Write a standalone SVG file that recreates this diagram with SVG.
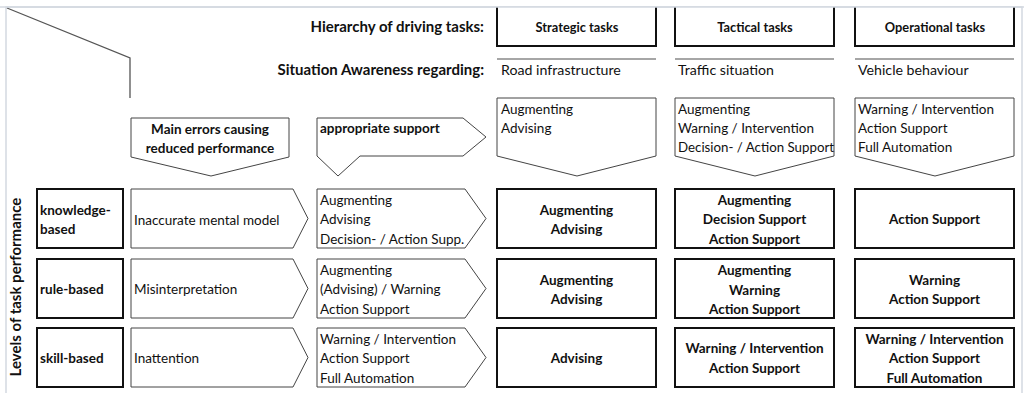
<svg xmlns="http://www.w3.org/2000/svg" width="1024" height="393" viewBox="0 0 1024 393">
<style>
text{font-family:"Lato","Open Sans","Liberation Sans",sans-serif;font-size:13.5px;fill:#111}
.b{font-weight:bold}
.m{text-anchor:middle}
.e{text-anchor:end}
.big{font-size:15px}
.head{font-size:12.8px}
.sa{font-size:14.2px}
.thick{fill:#fff;stroke:#111;stroke-width:2}
.thin{fill:#fff;stroke:#444;stroke-width:1}
.rule{stroke:#888;stroke-width:1.5;fill:none}
.frame{stroke:#d3d9e1;stroke-width:1.5;fill:none}
</style>
<rect width="1024" height="393" fill="#fff"/>
<g id="frame">
<path class="frame" d="M6,393 V7 H1022 V393"/>
<path d="M7,8 L130,58 V98" fill="none" stroke="#555" stroke-width="1.3"/>
</g>
<g id="headers">
<text class="b e big" x="484" y="32">Hierarchy of driving tasks:</text>
<text class="b e big" x="484" y="75">Situation Awareness regarding:</text>
</g>
<g id="strategic-head">
<path class="thick" d="M497,7 V46 H656 V7"/>
<text class="b m head" x="577" y="32">Strategic tasks</text>
<line class="rule" x1="497" y1="59" x2="656" y2="59"/>
<text class="sa" x="501" y="75">Road infrastructure</text>
</g>
<g id="tactical-head">
<path class="thick" d="M675,7 V46 H834 V7"/>
<text class="b m head" x="755" y="32">Tactical tasks</text>
<line class="rule" x1="675" y1="59" x2="834" y2="59"/>
<text class="sa" x="678" y="75">Traffic situation</text>
</g>
<g id="operational-head">
<path class="thick" d="M855,7 V46 H1014 V7"/>
<text class="b m head" x="935" y="32">Operational tasks</text>
<line class="rule" x1="855" y1="59" x2="1014" y2="59"/>
<text class="sa" x="858" y="75">Vehicle behaviour</text>
</g>
<g id="frame-top"><line class="frame" x1="0" y1="7" x2="1024" y2="7"/></g>
<g id="sa-strategic">
<path class="thin" d="M497,98 H656 V156 L577,176 L497,156 Z"/>
<text x="501" y="114">Augmenting</text>
<text x="501" y="133">Advising</text>
</g>
<g id="sa-tactical">
<path class="thin" d="M675,98 H834 V156 L755,176 L675,156 Z"/>
<text x="678" y="114">Augmenting</text>
<text x="678" y="133">Warning / Intervention</text>
<text x="678" y="152" style="font-size:13.3px">Decision- / Action Support</text>
</g>
<g id="sa-operational">
<path class="thin" d="M855,98 H1014 V156 L935,176 L855,156 Z"/>
<text x="858" y="114">Warning / Intervention</text>
<text x="858" y="133">Action Support</text>
<text x="858" y="152">Full Automation</text>
</g>
<g id="main-errors">
<path class="thin" d="M131,118 H289 V157 L211,176 L131,157 Z"/>
<text class="b m" x="210" y="134">Main errors causing</text>
<text class="b m" x="210" y="153">reduced performance</text>
</g>
<g id="appropriate-support">
<path class="thin" d="M317,118 H463 L486,137 L463,156 H360 L338,176 L317,156 Z"/>
<text class="b" x="320" y="133">appropriate support</text>
</g>
<g id="levels-label">
<text class="b m big" transform="translate(21,287) rotate(-90)">Levels of task performance</text>
</g>
<g id="knowledge">
<rect class="thick" x="37" y="189" width="86" height="59"/>
<text class="b" x="40" y="215">knowledge-</text>
<text class="b" x="40" y="234">based</text>
</g>
<g id="rule">
<rect class="thick" x="37" y="259" width="86" height="59"/>
<text class="b" x="40" y="294">rule-based</text>
</g>
<g id="skill">
<rect class="thick" x="37" y="328" width="86" height="59"/>
<text class="b" x="40" y="363">skill-based</text>
</g>
<g id="err-knowledge">
<path class="thin" d="M131,189 H293 L308,218.5 L293,248 H131 Z"/>
<text x="134" y="225">Inaccurate mental model</text>
</g>
<g id="err-rule">
<path class="thin" d="M131,259 H293 L308,288.5 L293,318 H131 Z"/>
<text x="134" y="294">Misinterpretation</text>
</g>
<g id="err-skill">
<path class="thin" d="M131,328 H293 L308,357.5 L293,387 H131 Z"/>
<text x="134" y="363">Inattention</text>
</g>
<g id="sup-knowledge">
<path class="thin" d="M317,189 H465 L486,218.5 L465,248 H317 Z"/>
<text x="320" y="205">Augmenting</text>
<text x="320" y="224">Advising</text>
<text x="320" y="244">Decision- / Action Supp.</text>
</g>
<g id="sup-rule">
<path class="thin" d="M317,259 H465 L486,288.5 L465,318 H317 Z"/>
<text x="320" y="275">Augmenting</text>
<text x="320" y="294">(Advising) / Warning</text>
<text x="320" y="314">Action Support</text>
</g>
<g id="sup-skill">
<path class="thin" d="M317,328 H465 L486,357.5 L465,387 H317 Z"/>
<text x="320" y="344">Warning / Intervention</text>
<text x="320" y="363">Action Support</text>
<text x="320" y="383">Full Automation</text>
</g>
<g id="cell-k-strategic">
<rect class="thick" x="497" y="189" width="159" height="59"/>
<text class="b m" x="576.5" y="215">Augmenting</text>
<text class="b m" x="576.5" y="234">Advising</text>
</g>
<g id="cell-k-tactical">
<rect class="thick" x="675" y="189" width="159" height="59"/>
<text class="b m" x="754.5" y="205">Augmenting</text>
<text class="b m" x="754.5" y="224">Decision Support</text>
<text class="b m" x="754.5" y="244">Action Support</text>
</g>
<g id="cell-k-operational">
<rect class="thick" x="855" y="189" width="159" height="59"/>
<text class="b m" x="934.5" y="224">Action Support</text>
</g>
<g id="cell-r-strategic">
<rect class="thick" x="497" y="259" width="159" height="59"/>
<text class="b m" x="576.5" y="285">Augmenting</text>
<text class="b m" x="576.5" y="304">Advising</text>
</g>
<g id="cell-r-tactical">
<rect class="thick" x="675" y="259" width="159" height="59"/>
<text class="b m" x="754.5" y="275">Augmenting</text>
<text class="b m" x="754.5" y="295">Warning</text>
<text class="b m" x="754.5" y="314">Action Support</text>
</g>
<g id="cell-r-operational">
<rect class="thick" x="855" y="259" width="159" height="59"/>
<text class="b m" x="934.5" y="285">Warning</text>
<text class="b m" x="934.5" y="304">Action Support</text>
</g>
<g id="cell-s-strategic">
<rect class="thick" x="497" y="328" width="159" height="59"/>
<text class="b m" x="576.5" y="363">Advising</text>
</g>
<g id="cell-s-tactical">
<rect class="thick" x="675" y="328" width="159" height="59"/>
<text class="b m" x="754.5" y="353">Warning / Intervention</text>
<text class="b m" x="754.5" y="373">Action Support</text>
</g>
<g id="cell-s-operational">
<rect class="thick" x="855" y="328" width="159" height="59"/>
<text class="b m" x="934.5" y="344">Warning / Intervention</text>
<text class="b m" x="934.5" y="363">Action Support</text>
<text class="b m" x="934.5" y="383">Full Automation</text>
</g>
<g id="connectors"></g>
</svg>
